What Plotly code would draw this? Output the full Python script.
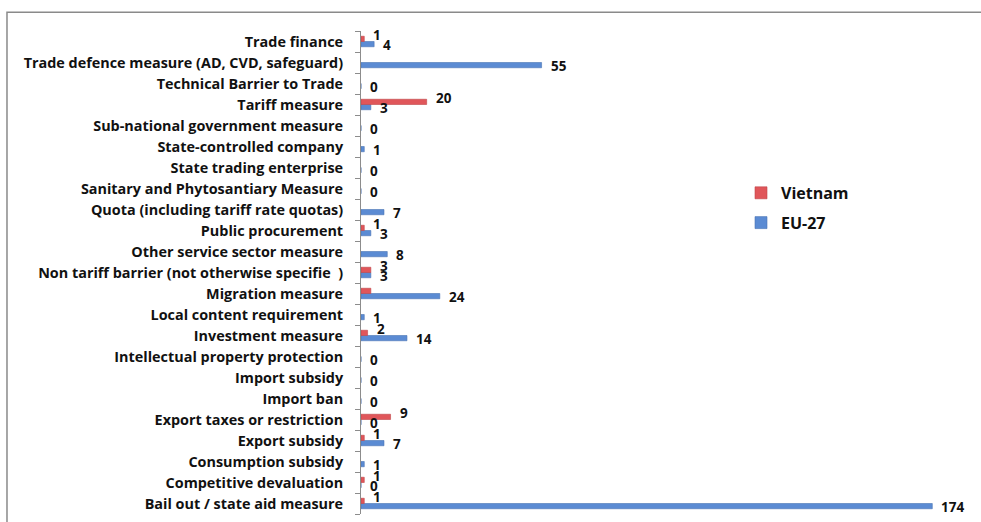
import plotly.graph_objects as go

# Measure types, listed bottom to top as they appear on the axis
categories = [
    "Bail out / state aid measure",
    "Competitive devaluation",
    "Consumption subsidy",
    "Export subsidy",
    "Export taxes or restriction",
    "Import ban",
    "Import subsidy",
    "Intellectual property protection",
    "Investment measure",
    "Local content requirement",
    "Migration measure",
    "Non tariff barrier (not otherwise specifie\u00a0\u00a0)",
    "Other service sector measure",
    "Public procurement",
    "Quota (including tariff rate quotas)",
    "Sanitary and Phytosantiary Measure",
    "State trading enterprise",
    "State-controlled company",
    "Sub-national government measure",
    "Tariff measure",
    "Technical Barrier to Trade",
    "Trade defence measure (AD, CVD, safeguard)",
    "Trade finance",
]

vietnam = [1, 1, None, 1, 9, None, None, None, 2, None, 3, 3, None, 1,
           None, None, None, None, None, 20, None, None, 1]
eu27 = [174, 0, 1, 7, 0, 0, 0, 0, 14, 1, 24, 3, 8, 3,
        7, 0, 0, 1, 0, 3, 0, 55, 4]

# Vietnam's migration bar carries no value label
unlabelled_vietnam = {"Migration measure"}

FONT = "Open Sans"
RED = "#E0565A"
BLUE = "#5B8BD3"
LABEL_FONT = dict(family=FONT, size=13.5, color="#111111", weight="bold")

fig = go.Figure()
fig.add_trace(go.Bar(
    y=categories, x=eu27, orientation="h", name="EU-27",
    marker=dict(color=BLUE, line=dict(color="#4A74B4", width=0.6)),
    legendgroup="eu", legendrank=2,
))
fig.add_trace(go.Bar(
    y=categories, x=vietnam, orientation="h", name="Vietnam",
    marker=dict(color=RED, line=dict(color="#C04448", width=0.6)),
    legendgroup="vn", legendrank=1,
))

# Value labels just past the end of each bar; Vietnam's sit a little high,
# EU-27's a little low, following their bars within each category
annotations = []
for cat, v in zip(categories, vietnam):
    if v is None or cat in unlabelled_vietnam:
        continue
    annotations.append(dict(
        x=v, y=cat, xref="x", yref="y", text=str(v), showarrow=False,
        xanchor="left", yanchor="middle", xshift=7, yshift=7,
        font=LABEL_FONT,
    ))
for cat, v in zip(categories, eu27):
    annotations.append(dict(
        x=v, y=cat, xref="x", yref="y", text=str(v), showarrow=False,
        xanchor="left", yanchor="middle", xshift=7, yshift=-3,
        font=LABEL_FONT,
    ))

fig.update_layout(
    width=981, height=522,
    margin=dict(l=361, r=29, t=31, b=8),
    paper_bgcolor="white", plot_bgcolor="white",
    barmode="group", bargap=0.5, bargroupgap=0.0,
    font=dict(family=FONT, size=13, color="#111111"),
    showlegend=True,
    legend=dict(
        x=0.643, y=0.70, xanchor="left", yanchor="top",
        font=dict(family=FONT, size=16, color="#111111", weight="bold"),
        tracegroupgap=6, itemwidth=30, bgcolor="rgba(0,0,0,0)",
    ),
    xaxis=dict(range=[0, 180], visible=False, showgrid=False, zeroline=False,
               automargin=False),
    yaxis=dict(
        type="category", range=[-0.5, len(categories) - 0.5],
        autorange=False, automargin=False,
        showgrid=False, zeroline=False,
        showline=True, linecolor="#8C8C8C", linewidth=1,
        ticks="outside", ticklen=5, tickcolor="#8C8C8C", tickson="boundaries",
        ticklabelstandoff=14,
        tickfont=dict(family=FONT, size=14.4, color="#111111", weight="bold"),
    ),
    annotations=annotations,
    shapes=[dict(
        type="rect", xref="paper", yref="paper",
        x0=-0.599, x1=1.2, y0=-0.2, y1=1.039,
        line=dict(color="#8A8A8A", width=1.5), fillcolor="rgba(0,0,0,0)",
        layer="below",
    )],
)

fig.write_html("out.html")
